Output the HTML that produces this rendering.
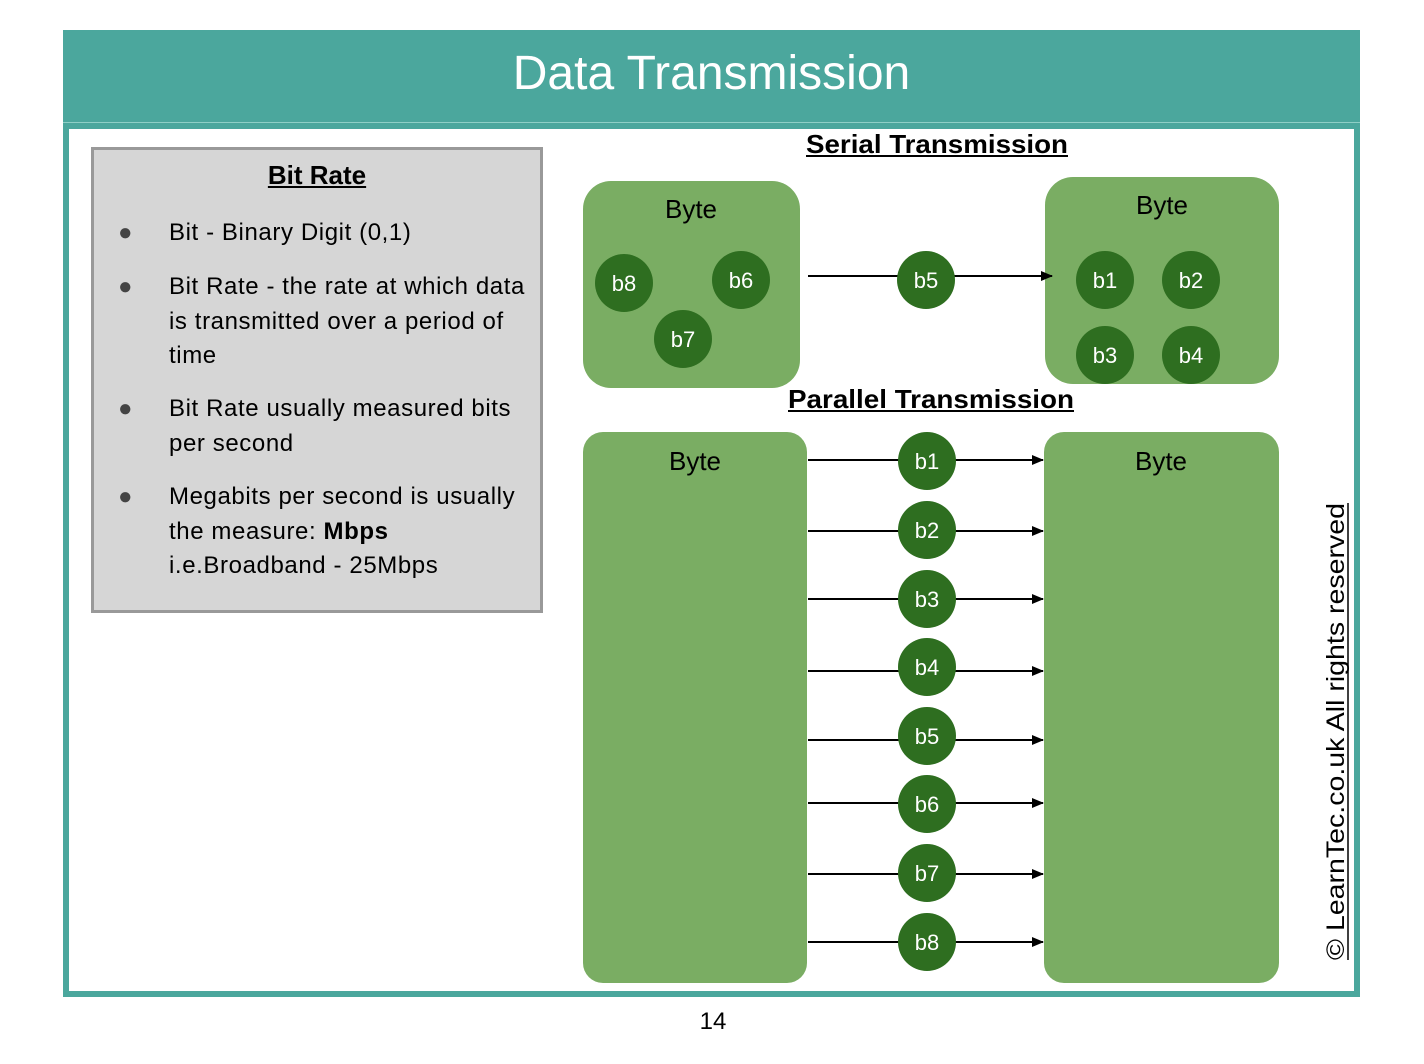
<!DOCTYPE html>
<html><head><style>
body{margin:0;width:1424px;height:1064px;background:#fff;position:relative;font-family:"Liberation Sans",sans-serif;overflow:hidden}
.a{position:absolute}
</style></head><body>
<div class="a" style="left:63px;top:30px;width:1297px;height:93px;background:#4ba79d"></div>
<div class="a" style="left:63px;top:122px;width:1297px;height:1px;background:#8fcfc6"></div>
<div class="a" style="left:63px;top:123px;width:1285px;height:862px;border:6px solid #4ba79d"></div>
<div class="a" style="left:63px;top:46px;width:1297px;text-align:center;color:#fff;font-size:48px">Data Transmission</div>
<div class="a" style="left:91px;top:147px;width:446px;height:460px;background:#d6d6d6;border:3px solid #999"></div>
<div class="a" style="left:91px;top:160px;width:452px;text-align:center;font-size:26px;font-weight:bold;text-decoration:underline">Bit Rate</div>
<div class="a" style="left:0;top:0;font-size:24px;letter-spacing:0.6px;line-height:34.5px;white-space:nowrap">
<div class="a" style="left:118px;top:216px;color:#444">●</div><div class="a" style="left:169px;top:216px">Bit - Binary Digit (0,1)</div>
<div class="a" style="left:118px;top:270px;color:#444">●</div><div class="a" style="left:169px;top:270px">Bit Rate - the rate at which data<br>is transmitted over a period of<br>time</div>
<div class="a" style="left:118px;top:392px;color:#444">●</div><div class="a" style="left:169px;top:392px">Bit Rate usually measured bits<br>per second</div>
<div class="a" style="left:118px;top:480px;color:#444">●</div><div class="a" style="left:169px;top:480px">Megabits per second is usually<br>the measure: <b>Mbps</b><br>i.e.Broadband - 25Mbps</div>
</div>
<svg class="a" style="left:0;top:0" width="1424" height="1064" font-family="Liberation Sans, sans-serif">
<defs><marker id="m" markerWidth="12" markerHeight="12" refX="11" refY="6" orient="auto" markerUnits="userSpaceOnUse"><path d="M0,1L12,6L0,11z" fill="#000"/></marker></defs>
<text x="806" y="153" font-size="26" font-weight="bold" textLength="262" lengthAdjust="spacingAndGlyphs">Serial Transmission</text>
<line x1="806" y1="156" x2="1068" y2="156" stroke="#000" stroke-width="2"/>
<text x="788" y="408" font-size="26" font-weight="bold" textLength="286" lengthAdjust="spacingAndGlyphs">Parallel Transmission</text>
<line x1="788" y1="411" x2="1074" y2="411" stroke="#000" stroke-width="2"/>
<g fill="#7aad63">
<rect x="583" y="181" width="217" height="207" rx="28"/>
<rect x="1045" y="177" width="234" height="207" rx="28"/>
<rect x="583" y="432" width="224" height="551" rx="20"/>
<rect x="1044" y="432" width="235" height="551" rx="20"/>
</g>
<g font-size="26" text-anchor="middle">
<text x="691" y="218">Byte</text><text x="1162" y="214">Byte</text>
<text x="695" y="470">Byte</text><text x="1161" y="470">Byte</text>
</g>
<line x1="808" y1="276" x2="1052" y2="276" stroke="#000" stroke-width="2" marker-end="url(#m)"/>
<g stroke="#000" stroke-width="2" marker-end="url(#m)">
<line x1="808" y1="460" x2="1043" y2="460"/><line x1="808" y1="531" x2="1043" y2="531"/>
<line x1="808" y1="599" x2="1043" y2="599"/><line x1="808" y1="671" x2="1043" y2="671"/>
<line x1="808" y1="740" x2="1043" y2="740"/><line x1="808" y1="803" x2="1043" y2="803"/>
<line x1="808" y1="874" x2="1043" y2="874"/><line x1="808" y1="942" x2="1043" y2="942"/>
</g>
<g fill="#2e6e20">
<circle cx="624" cy="283" r="29"/><circle cx="741" cy="280" r="29"/><circle cx="683" cy="339" r="29"/>
<circle cx="926" cy="280" r="29"/>
<circle cx="1105" cy="280" r="29"/><circle cx="1191" cy="280" r="29"/><circle cx="1105" cy="355" r="29"/><circle cx="1191" cy="355" r="29"/>
<circle cx="927" cy="461" r="29"/><circle cx="927" cy="530" r="29"/><circle cx="927" cy="599" r="29"/><circle cx="927" cy="667" r="29"/>
<circle cx="927" cy="736" r="29"/><circle cx="927" cy="804" r="29"/><circle cx="927" cy="873" r="29"/><circle cx="927" cy="942" r="29"/>
</g>
<g fill="#fff" font-size="22" text-anchor="middle">
<text x="624" y="291">b8</text><text x="741" y="288">b6</text><text x="683" y="347">b7</text>
<text x="926" y="288">b5</text>
<text x="1105" y="288">b1</text><text x="1191" y="288">b2</text><text x="1105" y="363">b3</text><text x="1191" y="363">b4</text>
<text x="927" y="469">b1</text><text x="927" y="538">b2</text><text x="927" y="607">b3</text><text x="927" y="675">b4</text>
<text x="927" y="744">b5</text><text x="927" y="812">b6</text><text x="927" y="881">b7</text><text x="927" y="950">b8</text>
</g>
<text transform="translate(1344,960) rotate(-90)" font-size="25" textLength="457" lengthAdjust="spacingAndGlyphs">© LearnTec.co.uk All rights reserved</text>
<line x1="1348" y1="960" x2="1348" y2="503" stroke="#000" stroke-width="1.5"/>
<text x="713" y="1029" font-size="24" text-anchor="middle">14</text>
</svg>
</body></html>
